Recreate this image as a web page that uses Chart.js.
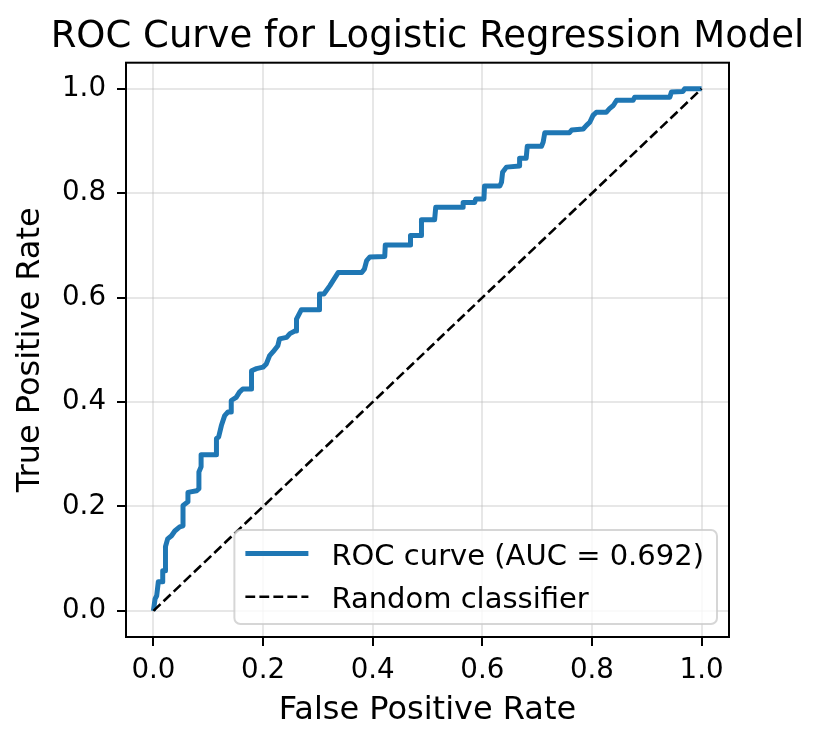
<!DOCTYPE html>
<html>
<head>
<meta charset="utf-8">
<script src="https://cdn.jsdelivr.net/npm/chart.js@4/dist/chart.umd.min.js"></script>
<style>
  html, body { margin: 0; padding: 0; background: #fff; }
  #wrap { width: 827px; height: 746px; }
</style>
</head>
<body>
<div id="wrap"><canvas id="chart" width="827" height="746"></canvas></div>
<script>
// values
var fpr = [0, 0.003, 0.006, 0.009, 0.017, 0.017, 0.022, 0.022, 0.026, 0.033,
    0.039, 0.048, 0.054, 0.054, 0.063, 0.063, 0.079, 0.083, 0.083, 0.087,
    0.087, 0.115, 0.115, 0.119, 0.124, 0.130, 0.136, 0.142, 0.142, 0.151,
    0.157, 0.163, 0.179, 0.179, 0.188, 0.200, 0.206, 0.212, 0.218, 0.227,
    0.230, 0.243, 0.249, 0.258, 0.261, 0.261, 0.270, 0.303, 0.303, 0.311,
    0.322, 0.328, 0.337, 0.380, 0.385, 0.389, 0.395, 0.422, 0.423, 0.469,
    0.469, 0.489, 0.489, 0.513, 0.515, 0.565, 0.565, 0.586, 0.588, 0.603,
    0.604, 0.632, 0.635, 0.637, 0.644, 0.668, 0.668, 0.680, 0.682, 0.708,
    0.711, 0.714, 0.759, 0.763, 0.784, 0.790, 0.796, 0.802, 0.808, 0.826,
    0.832, 0.839, 0.845, 0.875, 0.878, 0.942, 0.945, 0.966, 0.969, 1.0];
var tpr = [0, 0.023, 0.029, 0.056, 0.056, 0.077, 0.077, 0.123, 0.138, 0.144,
    0.153, 0.161, 0.163, 0.202, 0.209, 0.227, 0.230, 0.234, 0.266, 0.276,
    0.299, 0.299, 0.330, 0.333, 0.355, 0.374, 0.381, 0.381, 0.403, 0.409,
    0.419, 0.425, 0.425, 0.460, 0.464, 0.467, 0.473, 0.489, 0.496, 0.508,
    0.521, 0.524, 0.531, 0.536, 0.536, 0.559, 0.577, 0.577, 0.607, 0.607,
    0.623, 0.633, 0.648, 0.648, 0.655, 0.671, 0.678, 0.679, 0.701, 0.701,
    0.719, 0.719, 0.749, 0.749, 0.773, 0.773, 0.782, 0.782, 0.789, 0.789,
    0.814, 0.814, 0.821, 0.840, 0.850, 0.852, 0.867, 0.867, 0.890, 0.890,
    0.898, 0.916, 0.916, 0.921, 0.923, 0.930, 0.936, 0.949, 0.955, 0.955,
    0.962, 0.968, 0.978, 0.978, 0.984, 0.984, 0.994, 0.995, 1.0, 1.0];
var chanceX = [0, 1];
var chanceY = [0, 1];
var rocLabel = "ROC curve (AUC = 0.692)";
var chanceLabel = "Random classifier";

var FONT = "'DejaVu Sans', sans-serif";
var gridColor = "rgba(176,176,176,0.3)";

function pairs(xs, ys) {
    return xs.map(function(x, i) { return {x: x, y: ys[i]}; });
}

// black box round the plot, like matplotlib spines
var frame = {
    id: "frame",
    afterDatasetsDraw: function(chart) {
        var a = chart.chartArea, ctx = chart.ctx;
        ctx.save();
        ctx.strokeStyle = "#000";
        ctx.lineWidth = 2;
        ctx.strokeRect(a.left, a.top, a.right - a.left, a.bottom - a.top);
        ctx.restore();
    }
};

// legend in the lower right corner of the plot
var cornerLegend = {
    id: "cornerLegend",
    afterDraw: function(chart) {
        var ctx = chart.ctx, a = chart.chartArea;
        var sets = chart.data.datasets;
        ctx.save();
        ctx.font = "29px " + FONT;
        var textW = 0;
        sets.forEach(function(d) {
            textW = Math.max(textW, ctx.measureText(d.label).width);
        });
        var w = 11 + 63 + 23 + textW + 13;
        var h = 94;
        var x = a.right - 12 - w;
        var y = a.bottom - 13 - h;
        ctx.beginPath();
        ctx.roundRect(x, y, w, h, 6);
        ctx.fillStyle = "rgba(255,255,255,0.8)";
        ctx.fill();
        ctx.strokeStyle = "rgba(204,204,204,0.8)";
        ctx.lineWidth = 2;
        ctx.stroke();
        sets.forEach(function(d, i) {
            var rowY = y + 23.5 + i * 43.3;
            ctx.beginPath();
            ctx.strokeStyle = d.borderColor;
            ctx.lineWidth = d.borderWidth;
            ctx.setLineDash(d.borderDash || []);
            ctx.moveTo(x + 11, rowY);
            ctx.lineTo(x + 11 + 63, rowY);
            ctx.stroke();
            ctx.setLineDash([]);
            ctx.fillStyle = "#000";
            ctx.textBaseline = "alphabetic";
            ctx.fillText(d.label, x + 11 + 63 + 23, rowY + 11);
        });
        ctx.restore();
    }
};

var ctx = document.getElementById("chart").getContext("2d");
new Chart(ctx, {
    type: "scatter",
    data: {
        datasets: [
            {
                label: rocLabel,
                data: pairs(fpr, tpr),
                showLine: true,
                borderColor: "#1f77b4",
                borderWidth: 5,
                borderJoinStyle: "round",
                pointRadius: 0,
                order: 1,
            },
            {
                label: chanceLabel,
                data: pairs(chanceX, chanceY),
                showLine: true,
                borderColor: "#000",
                borderWidth: 2.6,
                borderDash: [9.8, 4.2],
                pointRadius: 0,
                order: 0,
            },
        ]
    },
    options: {
        responsive: false,
        animation: false,
        // left padding 28 + empty right axis of 98 keeps the title centred over the plot
        layout: { padding: { left: 28, right: 0, top: 0, bottom: 0 } },
        plugins: {
            legend: { display: false },
            tooltip: { enabled: false },
            title: {
                display: true,
                text: "ROC Curve for Logistic Regression Model",
                color: "#000",
                font: { family: FONT, size: 37, weight: "normal" },
                padding: { top: 15, bottom: 3.3 },
            },
        },
        scales: {
            x: {
                type: "linear",
                min: -0.05,
                max: 1.05,
                afterFit: function(scale) { scale.height = 109; },
                ticks: {
                    stepSize: 0.2,
                    includeBounds: false,
                    color: "#000",
                    padding: 8.2,
                    font: { family: FONT, size: 27.7 },
                    callback: function(v) { return v.toFixed(1); },
                },
                grid: { color: gridColor, lineWidth: 2, tickColor: "#000", tickLength: 9, tickWidth: 2 },
                border: { color: "#000", width: 2 },
                title: {
                    display: true,
                    text: "False Positive Rate",
                    color: "#000",
                    font: { family: FONT, size: 32 },
                    padding: { top: 0, bottom: 16.3 },
                },
            },
            y: {
                type: "linear",
                min: -0.05,
                max: 1.05,
                afterFit: function(scale) { scale.width = 98; },
                ticks: {
                    stepSize: 0.2,
                    includeBounds: false,
                    color: "#000",
                    padding: 11,
                    font: { family: FONT, size: 27.7 },
                    callback: function(v) { return v.toFixed(1); },
                },
                grid: { color: gridColor, lineWidth: 2, tickColor: "#000", tickLength: 9, tickWidth: 2 },
                border: { color: "#000", width: 2 },
                title: {
                    display: true,
                    text: "True Positive Rate",
                    color: "#000",
                    font: { family: FONT, size: 32 },
                    padding: { top: -16.5, bottom: 0 },
                },
            },
            yRight: {
                type: "linear",
                position: "right",
                min: -0.05,
                max: 1.05,
                afterFit: function(scale) { scale.width = 98; },
                ticks: { display: false },
                grid: { display: false },
                border: { display: false },
            },
        },
    },
    plugins: [frame, cornerLegend],
});
</script>
</body>
</html>
